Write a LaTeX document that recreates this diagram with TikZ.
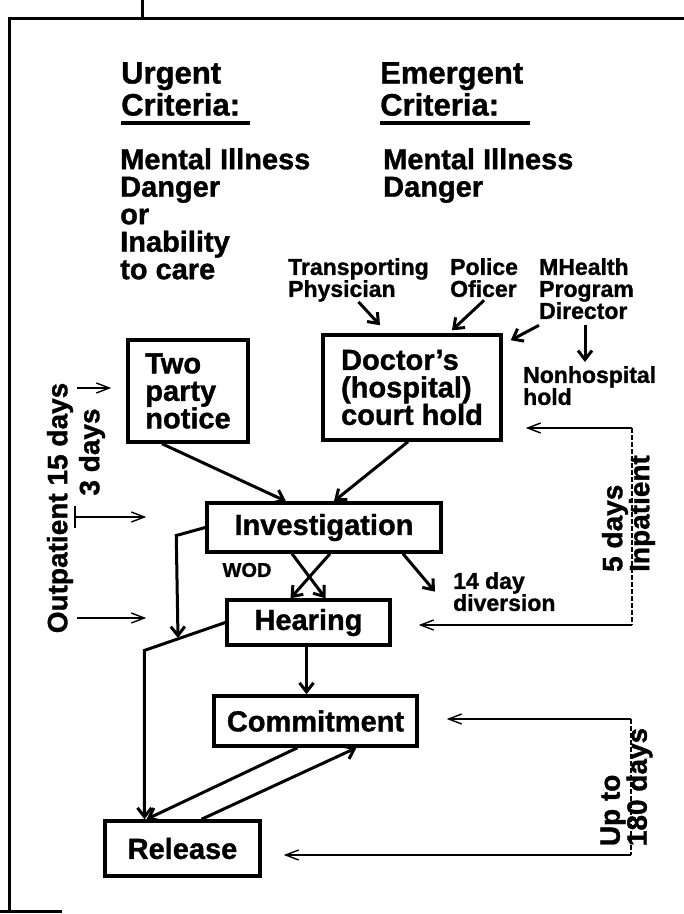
\documentclass[tikz,border=0pt]{standalone}
\usepackage{fontspec}
\setmainfont{Liberation Sans}[BoldFeatures={FakeBold=1.2}]
\usetikzlibrary{arrows.meta}

\tikzset{
    box/.style={draw, line width=3.5pt, inner sep=0pt, align=left},
    txt/.style={inner sep=0pt, align=left, anchor=north west},
    big/.style={font=\fontsize{31}{32}\selectfont\bfseries},
    mid/.style={font=\fontsize{29}{27.5}\selectfont\bfseries},
    small/.style={font=\fontsize{23}{22}\selectfont\bfseries},
    side/.style={font=\fontsize{28}{27}\selectfont\bfseries, inner sep=0pt, align=left, rotate=90},
    flow/.style={line width=3pt, -{Straight Barb[length=9pt,width=14pt]}},
    thinarr/.style={line width=1.4pt, -{Straight Barb[length=13pt,width=10pt]}},
    dotline/.style={line width=1.4pt, dash pattern=on 5pt off 2pt},
    uline/.style={line width=4pt},
    frame/.style={line width=3pt}
}

\begin{document}
\begin{tikzpicture}[x=1pt, y=-1pt]
    \useasboundingbox (0,0) rectangle (684,914);

    \draw[frame] (9,912) -- (9,18) -- (684,18);
    \draw[frame] (142,0) -- (142,18);
    \draw[frame] (0,911) -- (62,911);

    \node[txt, big] (urg) at (121,62) {Urgent\\Criteria:};
    \node[txt, big] (eme) at (380,62) {Emergent\\Criteria:};
    \draw[uline] ([yshift=-7]urg.south west) -- ([xshift=10,yshift=-7]urg.south east);
    \draw[uline] ([yshift=-7]eme.south west) -- ([xshift=7,yshift=-7]eme.south east);

    \node[txt, mid] (urgcrit) at (120,148) {Mental Illness\\Danger\\or\\Inability\\to care};
    \node[txt, mid] (emecrit) at (383,148) {Mental Illness\\Danger};

    \node[txt, small] (trans) at (288,258) {Transporting\\Physician};
    \node[txt, small] (police) at (450,258) {Police\\Oficer};
    \node[txt, small] (mhealth) at (539,258) {MHealth\\Program\\Director};
    \node[txt, small] (nonhosp) at (523,366) {Nonhospital\\hold};
    \node[txt, small] (div) at (453,572) {14 day\\diversion};
    \node[inner sep=0pt, font=\fontsize{20}{20}\selectfont\bfseries] (wod) at (247,570) {WOD};

    \node[box, mid, minimum width=120, minimum height=102] (two) at (188,391) {Two\\party\\notice};
    \node[box, mid, minimum width=178, minimum height=105] (doc) at (412,387.5) {Doctor's\\(hospital)\\court hold};
    \node[box, mid, minimum width=234, minimum height=49] (inv) at (324,527.5) {Investigation};
    \node[box, mid, minimum width=163, minimum height=45] (hear) at (308.5,622.5) {Hearing};
    \node[box, mid, minimum width=203, minimum height=50] (com) at (315.5,721) {Commitment};
    \node[box, mid, minimum width=155, minimum height=55] (rel) at (182.5,848.5) {Release};

    \node[side] (outp) at (60,508) {Outpatient 15 days};
    \node[side] (three) at (92,452) {3 days};
    \node[side] (inp) at (628.5,513.5) {5 days\\Inpatient};
    \node[side] (upto) at (626.5,787) {Up to\\180 days};

    \draw[flow] (trans.south) -- ([xshift=-32,yshift=8]doc.north);
    \draw[flow] ([yshift=-3]police.south) -- ([xshift=40,yshift=3]doc.north);
    \draw[flow] ([yshift=-6]mhealth.south west) -- ([xshift=8,yshift=-7]doc.north east);
    \draw[flow] ([xshift=46,yshift=-6]mhealth.south west) -- ([xshift=62,yshift=4]nonhosp.north west);

    \draw[flow] ([xshift=-26]two.south) -- ([xshift=-38]inv.north);
    \draw[flow] ([xshift=-4]doc.south) -- ([xshift=10]inv.north);
    \draw[flow] ([xshift=6]inv.south) -- ([xshift=-18]hear.north);
    \draw[flow] ([xshift=-32]inv.south) -- ([xshift=17]hear.north);
    \draw[flow] ([xshift=79]inv.south) -- ([xshift=-18]div.west);

    \coordinate (joint) at (178,638);
    \draw[flow] (inv.west) -- ++(-29,8) -- (joint);
    \draw[flow] (hear.west) -- ++(-81,28) -- ([xshift=-38]rel.north);
    \draw[flow] ([xshift=-2]hear.south) -- ([xshift=-2]hear.south |- com.north);
    \draw[flow] ([xshift=-18]com.south) -- ([xshift=-36]rel.north);
    \draw[flow] ([xshift=19]rel.north) -- ([xshift=41]com.south);

    \coordinate (inpA) at (632,428);
    \coordinate (inpB) at (632,625);
    \draw[thinarr] (inpA) -- ([xshift=23]doc.east |- inpA);
    \draw[dotline] (inpA) -- (inpB);
    \draw[thinarr] (inpB) -- ([xshift=27]hear.east |- inpB);

    \coordinate (upA) at (631,719);
    \coordinate (upB) at (631,855);
    \draw[thinarr] (upA) -- ([xshift=28]com.east |- upA);
    \draw[dotline] (upA) -- (upB);
    \draw[thinarr] (upB) -- ([xshift=22]rel.east |- upB);

    \coordinate (outA) at (77,388);
    \coordinate (outB) at (75,517);
    \coordinate (outC) at (77,618);
    \draw[thinarr] (outA) -- ([xshift=-15]two.west |- outA);
    \draw[thinarr] (outB) -- ([xshift=-59]inv.west |- outB);
    \draw[thinarr] (outC) -- ([xshift=-59]inv.west |- outC);
    \draw[line width=1.4pt] ([yshift=11]outB) -- ([yshift=-11]outB);
\end{tikzpicture}
\end{document}
